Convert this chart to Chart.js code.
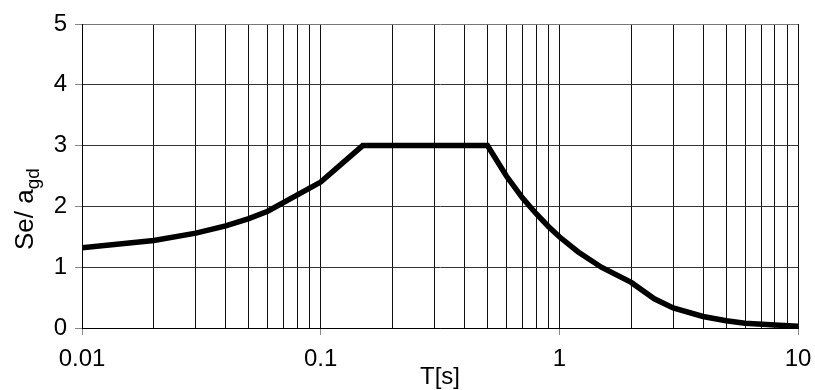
<!DOCTYPE html>
<html>
<head>
<meta charset="utf-8">
<script src="https://cdn.jsdelivr.net/npm/chart.js@4.4.1/dist/chart.umd.min.js"></script>
<style>
  html, body { margin: 0; padding: 0; background: #fff; }
  #wrap { width: 815px; height: 390px; }
</style>
</head>
<body>
<div id="wrap"><canvas id="chart"></canvas></div>
<script>
// period T [s] and normalised spectral acceleration Se/agd
const periods = [0.01, 0.02, 0.03, 0.04, 0.05, 0.06, 0.1, 0.15, 0.5, 0.6, 0.7, 0.8, 0.9, 1.0, 1.2, 1.5, 2.0, 2.5, 3, 4, 5, 6, 8, 10]
const spectrum = [1.32, 1.44, 1.56, 1.68, 1.8, 1.92, 2.4, 3.0, 3.0, 2.5, 2.14, 1.88, 1.67, 1.5, 1.25, 1.0, 0.75, 0.48, 0.33, 0.19, 0.12, 0.08, 0.05, 0.03]

// grid lines on the log axis, labels only on the decades
const xGrid = [0.01, 0.02, 0.03, 0.04, 0.05, 0.06, 0.07, 0.08, 0.09,
               0.1, 0.2, 0.3, 0.4, 0.5, 0.6, 0.7, 0.8, 0.9,
               1, 2, 3, 4, 5, 6, 7, 8, 9, 10]
const xLabels = {0.01: "0.01", 0.1: "0.1", 1: "1", 10: "10"}
const yTicks = [0, 1, 2, 3, 4, 5]

const font = "'Liberation Sans', Arial, Helvetica, sans-serif"

const yTitle = {
    id: "yTitle",
    afterDraw(chart){
        const ctx = chart.ctx
        ctx.save()
        ctx.translate(33, 250)
        ctx.rotate(-Math.PI / 2)
        ctx.fillStyle = "#000"
        ctx.textBaseline = "alphabetic"
        ctx.textAlign = "left"
        ctx.font = "26px " + font
        ctx.fillText("Se/ a", 0, 0)
        const w = ctx.measureText("Se/ a").width
        ctx.font = "19px " + font
        ctx.fillText("gd", w, 6)
        ctx.restore()
    }
}

const points = periods.map((t, i) => ({x: t, y: spectrum[i]}))

new Chart(document.getElementById("chart"), {
    type: "line",
    data: {
        datasets: [{
            data: points,
            borderColor: "#000",
            borderWidth: 5.5,
            pointRadius: 0,
            tension: 0,
            fill: false
        }]
    },
    options: {
        responsive: true,
        maintainAspectRatio: false,
        animation: false,
        layout: { padding: { left: 0, right: 17, top: 24, bottom: 0 } },
        plugins: { legend: { display: false }, tooltip: { enabled: false } },
        scales: {
            x: {
                type: "logarithmic",
                min: 0.01,
                max: 10,
                afterBuildTicks(scale){
                    scale.ticks = xGrid.map(v => ({value: v}))
                },
                afterFit(scale){
                    scale.height = 62
                    scale.paddingLeft = 0
                    scale.paddingRight = 0
                },
                ticks: {
                    autoSkip: false,
                    maxRotation: 0,
                    color: "#000",
                    font: { family: font, size: 24 },
                    padding: 10,
                    callback: v => xLabels[v] || ""
                },
                grid: {
                    color: "#111",
                    lineWidth: 1,
                    tickLength: 7,
                    tickColor: c => xLabels[c.tick.value] ? "#888" : "rgba(0,0,0,0)"
                },
                border: { color: "#000", width: 1 },
                title: {
                    display: true,
                    text: "T[s]",
                    color: "#000",
                    font: { family: font, size: 24 },
                    padding: { top: 0, bottom: -2 }
                }
            },
            y: {
                min: 0,
                max: 5,
                afterBuildTicks(scale){
                    scale.ticks = yTicks.map(v => ({value: v}))
                },
                afterFit(scale){
                    scale.width = 82
                    scale.paddingTop = 0
                    scale.paddingBottom = 0
                },
                ticks: {
                    color: "#000",
                    font: { family: font, size: 24 },
                    padding: 8
                },
                grid: {
                    color: c => c.tick.value === 5 ? "#777" : "#333",
                    lineWidth: 1,
                    tickLength: 7,
                    tickColor: "#888"
                },
                border: { color: "#000", width: 1 }
            }
        }
    },
    plugins: [yTitle]
})
</script>
</body>
</html>
